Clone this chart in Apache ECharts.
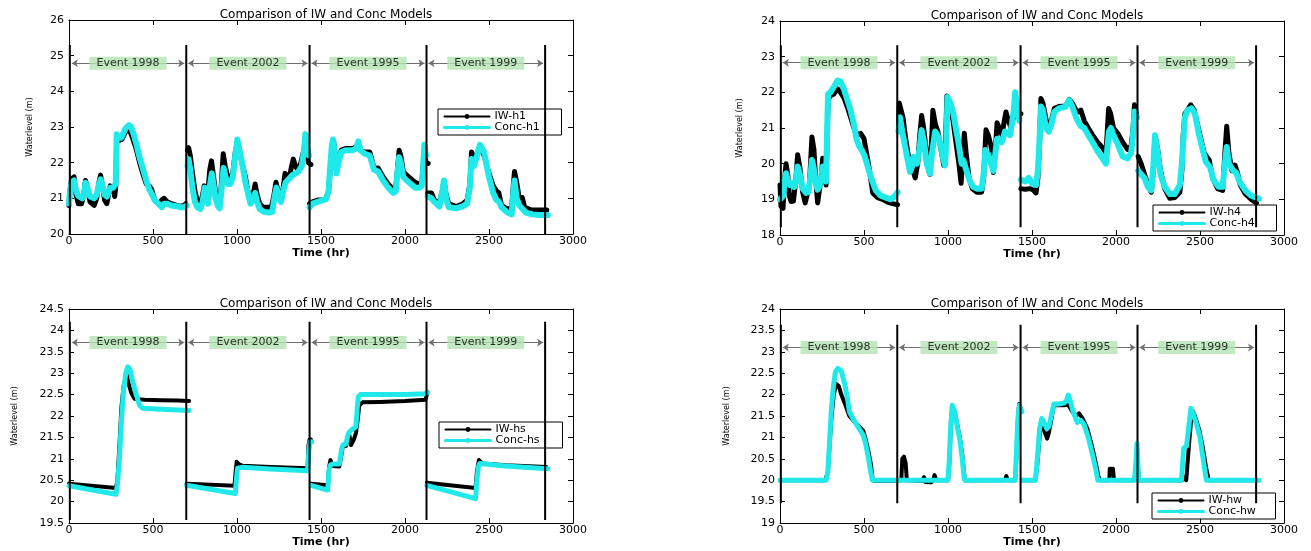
<!DOCTYPE html>
<html><head><meta charset="utf-8">
<script src="https://cdn.jsdelivr.net/npm/echarts@6/dist/echarts.min.js"></script>
<style>html,body{margin:0;padding:0;background:#fff}#c{width:1311px;height:551px}</style>
</head><body><div id="c"></div>
<script>
// ---------- DATA (time in hr, water level in m) ----------
const eventNames = ['Event 1998', 'Event 2002', 'Event 1995', 'Event 1999'];
const eventBounds = [5, 698, 1432, 2128, 2834];
const xTickMax = 3000, xTickStep = 500;

const h1IW = [
 [[0,20.8],[6,21.2],[15,21.55],[30,21.6],[42,21.1],[55,20.85],[75,20.85],[88,21.1],[98,21.5],[110,21.3],[125,20.9],[150,20.8],[165,21.0],[178,21.45],[188,21.65],[200,21.3],[212,20.95],[225,20.85],[235,21.1],[245,21.35],[262,21.3],[272,21.05],[278,21.3],[284,22.6],[295,22.6],[315,22.65],[335,22.85],[352,22.95],[370,22.8],[385,22.6],[402,22.35],[420,22.0],[442,21.65],[460,21.4],[478,21.35],[492,21.25],[510,20.95],[532,20.85],[552,20.95],[566,21.0],[585,20.9],[610,20.85],[640,20.8],[665,20.78],[685,20.8],[695,20.85]],
 [[705,22.35],[712,22.42],[722,22.2],[735,21.7],[750,21.2],[765,20.9],[782,20.83],[795,21.1],[805,21.35],[815,21.2],[825,21.1],[838,21.8],[848,22.05],[858,21.7],[870,21.25],[882,20.9],[895,20.83],[905,21.3],[918,22.25],[930,21.9],[945,21.6],[960,21.55],[975,21.7],[990,22.3],[1002,22.55],[1015,22.3],[1032,21.95],[1050,21.6],[1065,21.2],[1080,20.95],[1095,21.1],[1108,21.4],[1120,21.1],[1135,20.85],[1155,20.75],[1180,20.75],[1205,20.75],[1220,21.1],[1232,21.45],[1245,21.2],[1262,20.95],[1275,21.3],[1286,21.7],[1300,21.6],[1312,21.6],[1325,21.9],[1335,22.1],[1348,21.9],[1362,21.8],[1380,22.0],[1395,22.3],[1405,22.5],[1415,22.3],[1425,22.0],[1440,21.95]],
 [[1432,20.85],[1450,20.9],[1480,20.95],[1510,20.95],[1530,21.0],[1545,21.2],[1555,21.8],[1565,22.4],[1575,22.6],[1585,22.2],[1595,21.85],[1605,22.1],[1620,22.35],[1650,22.4],[1690,22.4],[1710,22.45],[1722,22.55],[1735,22.35],[1760,22.3],[1790,22.3],[1800,22.15],[1815,21.85],[1840,21.85],[1870,21.6],[1900,21.4],[1930,21.25],[1945,21.3],[1955,21.8],[1965,22.35],[1975,22.2],[1990,21.75],[2010,21.65],[2035,21.55],[2060,21.45],[2085,21.4],[2100,21.45],[2108,21.9],[2115,22.35],[2125,22.0],[2138,21.98]],
 [[2135,21.15],[2158,21.15],[2175,20.95],[2205,20.87],[2222,21.2],[2232,21.5],[2245,21.1],[2260,20.85],[2305,20.77],[2345,20.85],[2370,20.95],[2386,21.4],[2396,22.3],[2410,22.15],[2426,22.2],[2446,22.45],[2470,22.2],[2500,21.7],[2525,21.35],[2545,21.2],[2558,21.16],[2575,20.8],[2610,20.7],[2635,20.72],[2645,21.4],[2652,21.75],[2665,21.45],[2680,21.0],[2698,21.02],[2712,20.75],[2750,20.68],[2800,20.67],[2844,20.67]]
];
const h1Conc = [
 [[0,20.85],[6,21.2],[15,21.45],[30,21.5],[42,21.2],[55,21.07],[80,21.0],[90,21.1],[98,21.44],[110,21.3],[125,21.05],[150,21.0],[165,21.1],[178,21.4],[188,21.53],[200,21.35],[212,21.1],[225,21.05],[235,21.15],[245,21.3],[262,21.3],[272,21.3],[278,21.4],[284,22.8],[295,22.7],[312,22.7],[335,22.95],[355,23.05],[370,23.0],[385,22.8],[402,22.5],[420,22.15],[442,21.8],[460,21.5],[478,21.25],[495,21.1],[510,20.95],[532,20.85],[552,20.75],[566,20.85],[585,20.85],[610,20.8],[640,20.78],[665,20.75],[685,20.75],[700,20.8]],
 [[705,21.9],[712,22.1],[722,21.8],[735,21.3],[750,20.9],[765,20.75],[782,20.7],[795,20.9],[808,21.3],[818,21.0],[828,20.85],[840,21.4],[850,21.7],[860,21.4],[872,21.0],[885,20.8],[897,20.72],[907,21.2],[920,21.85],[932,21.6],[945,21.4],[960,21.4],[975,21.6],[990,22.2],[1002,22.65],[1015,22.35],[1032,21.95],[1050,21.45],[1065,21.15],[1080,20.85],[1095,20.95],[1108,21.15],[1120,20.9],[1135,20.7],[1160,20.62],[1190,20.6],[1210,20.62],[1222,21.0],[1235,21.3],[1248,21.05],[1262,20.9],[1275,21.2],[1290,21.45],[1310,21.55],[1330,21.65],[1350,21.7],[1365,21.75],[1385,21.9],[1398,22.3],[1407,22.8],[1418,22.4],[1428,22.2]],
 [[1432,20.75],[1450,20.85],[1480,20.9],[1510,20.95],[1530,20.98],[1545,21.2],[1555,21.9],[1565,22.5],[1572,22.65],[1582,22.2],[1592,21.7],[1605,22.0],[1620,22.3],[1650,22.35],[1690,22.35],[1710,22.4],[1722,22.6],[1735,22.35],[1760,22.25],[1790,22.2],[1800,22.05],[1815,21.8],[1840,21.75],[1870,21.5],[1900,21.3],[1930,21.15],[1945,21.2],[1955,21.7],[1965,22.15],[1975,22.0],[1990,21.6],[2010,21.5],[2035,21.4],[2060,21.3],[2085,21.3],[2100,21.35],[2108,21.9],[2115,22.5],[2125,22.2]],
 [[2135,21.05],[2158,21.0],[2175,20.9],[2205,20.77],[2222,21.2],[2232,21.5],[2245,21.0],[2260,20.75],[2305,20.72],[2345,20.78],[2370,20.85],[2386,21.3],[2396,22.1],[2410,21.9],[2426,22.15],[2446,22.5],[2470,22.3],[2500,21.6],[2525,21.15],[2545,20.95],[2560,20.9],[2575,20.75],[2610,20.6],[2635,20.55],[2645,21.2],[2652,21.5],[2665,21.0],[2680,20.8],[2700,20.7],[2720,20.6],[2760,20.55],[2800,20.53],[2850,20.53]]
];
const h4IW = [
 [[0,19.4],[6,18.8],[18,18.75],[28,19.6],[36,20.0],[46,19.7],[56,19.1],[66,18.94],[80,18.95],[95,19.6],[105,20.25],[118,19.9],[135,19.2],[150,18.9],[160,18.85],[175,19.4],[190,20.75],[202,20.4],[212,19.6],[224,18.9],[234,18.9],[245,19.6],[254,20.15],[264,19.8],[274,19.4],[280,20.6],[286,21.8],[300,21.9],[320,21.95],[343,22.1],[360,22.0],[380,21.85],[400,21.6],[420,21.3],[440,21.0],[460,20.8],[480,20.85],[500,20.7],[515,20.3],[532,19.83],[552,19.18],[580,19.05],[611,19.0],[640,18.92],[670,18.88],[700,18.85]],
 [[705,21.0],[710,21.7],[720,21.75],[732,21.3],[748,20.7],[765,20.2],[785,19.9],[805,19.6],[820,20.0],[832,20.8],[843,21.35],[855,21.0],[870,20.4],[885,19.8],[893,19.7],[902,20.6],[910,21.5],[925,21.1],[940,20.9],[958,20.4],[975,19.95],[985,20.5],[993,21.9],[1010,21.7],[1030,21.2],[1050,20.5],[1065,20.0],[1078,19.45],[1088,20.2],[1097,20.85],[1108,20.3],[1125,19.6],[1145,19.3],[1170,19.2],[1200,19.2],[1212,19.6],[1226,20.95],[1240,20.8],[1256,20.5],[1270,19.75],[1282,20.4],[1292,21.15],[1305,21.0],[1322,20.8],[1335,21.2],[1345,21.45],[1360,21.2],[1375,21.0],[1390,21.3],[1402,21.6],[1415,21.4],[1434,21.4]],
 [[1434,19.3],[1460,19.28],[1490,19.3],[1510,19.25],[1524,19.18],[1535,19.6],[1544,20.4],[1553,21.83],[1565,21.7],[1583,21.25],[1600,20.95],[1615,21.2],[1633,21.55],[1660,21.6],[1700,21.62],[1722,21.8],[1740,21.7],[1762,21.5],[1778,21.45],[1791,21.5],[1811,21.2],[1835,21.0],[1861,20.8],[1890,20.6],[1920,20.45],[1940,20.3],[1948,20.9],[1956,21.55],[1968,21.4],[1985,21.0],[2010,20.85],[2040,20.6],[2069,20.4],[2090,20.5],[2100,20.9],[2110,21.65],[2122,21.4]],
 [[2132,20.2],[2150,20.0],[2170,19.7],[2190,19.4],[2210,19.2],[2222,19.8],[2232,20.8],[2248,20.4],[2265,19.8],[2290,19.3],[2320,19.03],[2350,19.05],[2380,19.2],[2392,19.8],[2400,20.8],[2410,21.4],[2425,21.5],[2445,21.65],[2465,21.5],[2485,21.1],[2505,20.7],[2525,20.3],[2540,20.19],[2555,20.1],[2575,19.6],[2605,19.3],[2635,19.25],[2648,20.3],[2659,21.05],[2672,20.3],[2690,19.8],[2708,19.96],[2720,19.8],[2740,19.4],[2770,19.15],[2805,19.0],[2836,18.9]]
];
const h4Conc = [
 [[0,19.0],[8,18.95],[20,19.1],[28,19.5],[36,19.73],[48,19.5],[60,19.4],[72,19.45],[85,19.35],[95,19.5],[105,19.92],[118,19.7],[135,19.3],[155,19.18],[168,19.2],[180,19.6],[190,20.1],[200,19.9],[212,19.5],[224,19.27],[238,19.4],[248,19.7],[254,19.92],[265,19.6],[274,19.5],[280,20.8],[286,21.95],[300,22.0],[320,22.15],[343,22.33],[360,22.3],[380,22.1],[400,21.8],[420,21.5],[440,21.1],[455,20.7],[470,20.5],[490,20.35],[505,20.2],[530,19.8],[550,19.5],[570,19.25],[600,19.1],[630,19.05],[660,19.0],[685,19.1],[700,19.2]],
 [[705,20.9],[714,21.3],[728,20.9],[744,20.5],[760,20.1],[774,19.77],[785,19.9],[794,20.19],[805,20.1],[815,20.0],[830,20.4],[843,20.94],[858,20.6],[873,20.0],[893,19.72],[905,20.3],[923,20.9],[938,20.8],[952,20.6],[968,20.2],[982,19.95],[990,20.6],[997,21.87],[1015,21.7],[1032,21.4],[1050,20.9],[1062,20.6],[1081,20.0],[1091,20.1],[1110,19.8],[1131,19.5],[1150,19.35],[1171,19.3],[1200,19.3],[1212,19.7],[1222,20.38],[1240,20.25],[1256,20.0],[1270,19.8],[1282,20.3],[1292,20.7],[1306,20.65],[1320,20.6],[1339,20.9],[1355,20.85],[1369,20.8],[1380,21.1],[1392,21.5],[1400,22.0],[1410,21.7],[1425,21.2]],
 [[1434,19.55],[1460,19.5],[1480,19.6],[1500,19.45],[1524,19.4],[1535,19.8],[1544,20.6],[1553,21.6],[1565,21.5],[1583,21.0],[1600,20.9],[1615,21.1],[1633,21.45],[1660,21.55],[1700,21.6],[1722,21.78],[1740,21.6],[1762,21.3],[1778,21.15],[1791,21.05],[1811,21.0],[1835,20.8],[1861,20.6],[1890,20.35],[1920,20.15],[1940,20.0],[1948,20.4],[1958,20.9],[1970,21.0],[1985,20.8],[2010,20.55],[2040,20.2],[2069,20.15],[2090,20.3],[2100,20.7],[2110,21.46],[2125,21.3]],
 [[2132,19.8],[2150,19.7],[2170,19.6],[2190,19.35],[2210,19.25],[2222,19.9],[2232,20.8],[2248,20.3],[2265,19.7],[2290,19.35],[2320,19.15],[2350,19.15],[2380,19.4],[2392,20.0],[2400,20.6],[2410,21.3],[2425,21.5],[2450,21.55],[2470,21.4],[2490,20.9],[2510,20.5],[2535,20.05],[2560,19.9],[2580,19.55],[2610,19.35],[2635,19.35],[2648,20.0],[2659,20.47],[2672,20.0],[2698,19.8],[2715,19.75],[2735,19.5],[2770,19.25],[2805,19.1],[2850,19.02]]
];
const hsIW = [
 [[0,20.42],[280,20.32],[288,20.5],[300,21.3],[312,22.2],[325,22.7],[338,22.9],[345,22.95],[355,22.75],[370,22.55],[390,22.4],[450,22.38],[550,22.37],[650,22.36],[715,22.35]],
 [[700,20.42],[985,20.37],[992,20.7],[998,20.93],[1010,20.88],[1030,20.84],[1200,20.81],[1420,20.78],[1425,21.3],[1432,21.45],[1440,21.45]],
 [[1440,20.42],[1540,20.38],[1548,20.8],[1556,20.97],[1570,20.83],[1609,20.82],[1622,21.1],[1630,21.3],[1649,21.3],[1660,21.45],[1669,21.55],[1679,21.32],[1695,21.45],[1708,21.6],[1718,21.9],[1728,22.25],[1748,22.32],[1850,22.33],[2000,22.35],[2122,22.38],[2130,22.5]],
 [[2130,20.44],[2420,20.32],[2428,20.7],[2440,20.97],[2460,20.89],[2600,20.85],[2840,20.81]]
];
const hsConc = [
 [[0,20.37],[280,20.17],[288,20.4],[300,21.0],[312,21.9],[325,22.6],[338,23.0],[350,23.15],[362,23.1],[380,22.8],[400,22.5],[420,22.25],[440,22.18],[550,22.16],[715,22.13]],
 [[700,20.38],[990,20.19],[996,20.5],[1003,20.78],[1030,20.8],[1200,20.76],[1420,20.72],[1428,21.2],[1435,21.4],[1445,21.4]],
 [[1440,20.38],[1540,20.27],[1548,20.75],[1556,20.85],[1570,20.88],[1609,20.88],[1622,21.2],[1630,21.32],[1649,21.35],[1660,21.55],[1669,21.63],[1690,21.7],[1708,21.75],[1716,22.2],[1722,22.45],[1735,22.5],[1850,22.5],[2000,22.5],[2120,22.52],[2135,22.55]],
 [[2130,20.38],[2420,20.07],[2428,20.5],[2436,20.8],[2445,20.89],[2600,20.83],[2850,20.77]]
];
const hwIW = [
 [[0,20.0],[270,20.0],[285,20.2],[295,20.8],[305,21.4],[320,22.0],[335,22.25],[350,22.2],[365,22.0],[385,21.8],[413,21.5],[440,21.38],[472,21.25],[496,21.15],[510,20.95],[525,20.7],[542,20.35],[552,20.0],[565,19.98],[700,19.98]],
 [[700,20.0],[722,20.0],[728,20.5],[738,20.55],[748,20.4],[755,20.0],[850,19.98],[857,20.07],[865,19.96],[900,19.95],[912,20.0],[920,20.12],[930,20.0],[1000,20.0],[1008,20.4],[1015,21.1],[1025,21.72],[1040,21.6],[1055,21.3],[1070,21.0],[1085,20.6],[1095,20.2],[1100,20.0],[1340,20.0],[1347,20.1],[1355,20.0],[1400,20.0],[1408,20.6],[1415,21.3],[1423,21.78],[1435,21.6]],
 [[1440,20.0],[1520,20.0],[1530,20.3],[1545,21.0],[1558,21.4],[1568,21.42],[1578,21.1],[1590,20.97],[1600,21.1],[1612,21.35],[1630,21.75],[1660,21.75],[1690,21.75],[1712,21.77],[1722,21.72],[1740,21.6],[1760,21.5],[1780,21.56],[1800,21.45],[1830,21.2],[1860,20.75],[1880,20.4],[1895,20.1],[1905,20.0],[1960,20.0],[1963,20.27],[1982,20.27],[1988,20.0],[2110,20.0],[2118,20.3],[2125,20.55]],
 [[2128,20.5],[2135,20.0],[2395,20.0],[2405,20.08],[2418,20.0],[2426,20.4],[2436,20.9],[2446,21.35],[2456,21.62],[2470,21.5],[2496,21.17],[2515,20.8],[2536,20.3],[2552,20.0],[2840,20.0]]
];
const hwConc = [
 [[0,20.0],[275,20.0],[285,20.2],[295,20.9],[305,21.6],[318,22.2],[330,22.53],[345,22.61],[365,22.55],[385,22.25],[400,21.95],[413,21.6],[440,21.4],[472,21.2],[496,21.05],[510,20.85],[525,20.55],[540,20.2],[550,20.0],[700,20.0]],
 [[700,20.0],[1000,20.0],[1008,20.5],[1015,21.2],[1025,21.75],[1040,21.6],[1055,21.25],[1070,20.95],[1085,20.5],[1095,20.1],[1100,20.0],[1400,20.0],[1408,20.7],[1415,21.4],[1425,21.75],[1440,21.6]],
 [[1440,20.0],[1520,20.0],[1530,20.4],[1545,21.2],[1558,21.44],[1572,21.35],[1588,21.2],[1600,21.25],[1612,21.45],[1630,21.78],[1660,21.78],[1690,21.8],[1705,21.85],[1716,21.99],[1728,21.85],[1745,21.6],[1770,21.35],[1790,21.4],[1810,21.3],[1835,21.0],[1860,20.6],[1880,20.25],[1892,20.0],[2110,20.0],[2118,20.4],[2125,20.86]],
 [[2125,20.86],[2135,20.0],[2390,20.0],[2397,20.4],[2402,20.74],[2420,20.8],[2432,21.2],[2446,21.68],[2460,21.55],[2480,21.3],[2500,21.0],[2515,20.6],[2530,20.2],[2538,20.0],[2850,20.0]]
];

// ---------- LAYOUT ----------
const F = 'DejaVu Sans';
const CYAN = '#1fe9e9';
const panels = [
  {key:'h1', iw:h1IW, conc:h1Conc, grid:{left:69, top:20, width:504, height:214}, y:[20,26,1], sep:[20,25.3], arrowY:24.79, legend:{left:438, top:109}, nameGap:35, lw:[5,6]},
  {key:'h4', iw:h4IW, conc:h4Conc, grid:{left:780, top:21, width:504, height:214}, y:[18,24,1], sep:[18.22,23.32], arrowY:22.83, legend:{left:1153, top:205}, nameGap:36, lw:[5,6]},
  {key:'hs', iw:hsIW, conc:hsConc, grid:{left:69, top:309, width:504, height:214}, y:[19.5,24.5,0.5], sep:[19.57,24.2], arrowY:23.72, legend:{left:439, top:422}, nameGap:50, lw:[4,5]},
  {key:'hw', iw:hwIW, conc:hwConc, grid:{left:780, top:309, width:504, height:214}, y:[19,24,0.5], sep:[19.46,23.63], arrowY:23.1, legend:{left:1152, top:493}, nameGap:49, lw:[4,5]}
];

function joinEvents(evs) {
  const out = [];
  evs.forEach(ev => { ev.forEach(p => out.push(p)); out.push([ev[ev.length-1][0], '-']); });
  return out;
}
const plain = v => String(v);

const grid = [], xAxis = [], yAxis = [], series = [], title = [], legend = [];
const axisCommon = () => ({
  axisLine:{show:true, onZero:false, lineStyle:{color:'#000', width:1}},
  axisTick:{show:true, inside:true, length:5, lineStyle:{color:'#000', width:1}},
  splitLine:{show:false}
});
panels.forEach((p, g) => {
  grid.push(Object.assign({containLabel:false}, p.grid));
  const cx = p.grid.left + p.grid.width/2;
  title.push({text:'Comparison of IW and Conc Models', left:cx, top:p.grid.top - 16, textAlign:'center',
    textStyle:{fontFamily:F, fontSize:12, fontWeight:'normal', color:'#000'}});
  xAxis.push(Object.assign({type:'value', gridIndex:g, position:'bottom', min:0, max:xTickMax, interval:xTickStep,
    axisLabel:{margin:2, color:'#000', fontFamily:F, fontSize:11, formatter:plain},
    name:'Time (hr)', nameLocation:'middle', nameGap:13,
    nameTextStyle:{fontFamily:F, fontSize:11, fontWeight:'bold', color:'#000'}}, axisCommon()));
  xAxis.push(Object.assign({type:'value', gridIndex:g, position:'top', min:0, max:xTickMax, interval:xTickStep,
    axisLabel:{show:false}}, axisCommon()));
  yAxis.push(Object.assign({type:'value', gridIndex:g, position:'left', min:p.y[0], max:p.y[1], interval:p.y[2],
    axisLabel:{margin:5, color:'#000', fontFamily:F, fontSize:11, formatter:plain},
    name:'Waterlevel (m)', nameLocation:'middle', nameGap:p.nameGap,
    nameTextStyle:{fontFamily:F, fontSize:8, color:'#000'}}, axisCommon()));
  yAxis.push(Object.assign({type:'value', gridIndex:g, position:'right', min:p.y[0], max:p.y[1], interval:p.y[2],
    axisLabel:{show:false}}, axisCommon()));
  const xi = 2*g, yi = 2*g;
  const iwName = 'IW-' + p.key, concName = 'Conc-' + p.key;
  series.push({type:'line', name:iwName, xAxisIndex:xi, yAxisIndex:yi, data:joinEvents(p.iw),
    symbol:'circle', symbolSize:4, showSymbol:false, connectNulls:false, z:2,
    lineStyle:{color:'#000', width:p.lw[0], join:'round', cap:'round'}, itemStyle:{color:'#000'}});
  series.push({type:'line', name:concName, xAxisIndex:xi, yAxisIndex:yi, data:joinEvents(p.conc),
    symbol:'circle', symbolSize:5, showSymbol:false, connectNulls:false, z:3,
    lineStyle:{color:CYAN, width:p.lw[1], join:'round', cap:'round'}, itemStyle:{color:CYAN}});
  const sepData = [];
  eventBounds.forEach(b => { sepData.push([b, p.sep[0]], [b, p.sep[1]], [b, '-']); });
  const arrows = [];
  for (let i = 0; i < eventNames.length; i++) {
    arrows.push([{coord:[eventBounds[i] + 12, p.arrowY]}, {coord:[eventBounds[i+1] - 12, p.arrowY]}]);
  }
  series.push({type:'line', xAxisIndex:xi, yAxisIndex:yi, data:sepData, symbol:'none', silent:true, z:4,
    lineStyle:{color:'#000', width:2}, tooltip:{show:false},
    markLine:{silent:true, symbol:['arrow','arrow'], symbolSize:[6,6], animation:false, precision:4,
      label:{show:false}, lineStyle:{color:'#6e6e6e', width:1, type:'solid'}, emphasis:{disabled:true}, data:arrows}});
  const labelData = eventNames.map((n, i) => [(eventBounds[i] + eventBounds[i+1]) / 2, p.arrowY, n]);
  series.push({type:'scatter', xAxisIndex:xi, yAxisIndex:yi, data:labelData, symbolSize:1, silent:true, z:10,
    itemStyle:{color:'rgba(0,0,0,0)'},
    label:{show:true, position:'inside', formatter:q => q.value[2], color:'#000', fontFamily:F, fontSize:11,
      lineHeight:11, backgroundColor:'#b3e4b3', padding:[1,7,1,7]}});
  legend.push({data:[{name:iwName, lineStyle:{width:2}}, {name:concName, lineStyle:{width:3}}],
    orient:'vertical', left:p.legend.left, top:p.legend.top, itemWidth:45, itemHeight:6, itemGap:0,
    padding:[2,5,2,5], backgroundColor:'#fff', borderColor:'#000', borderWidth:1, borderRadius:0,
    selectedMode:false, textStyle:{fontFamily:F, fontSize:11, color:'#000', lineHeight:11, width:62}});
});

const chart = echarts.init(document.getElementById('c'), null, {renderer:'canvas'});
chart.setOption({animation:false, backgroundColor:'#fff', title, grid, xAxis, yAxis, legend, series});
</script></body></html>
